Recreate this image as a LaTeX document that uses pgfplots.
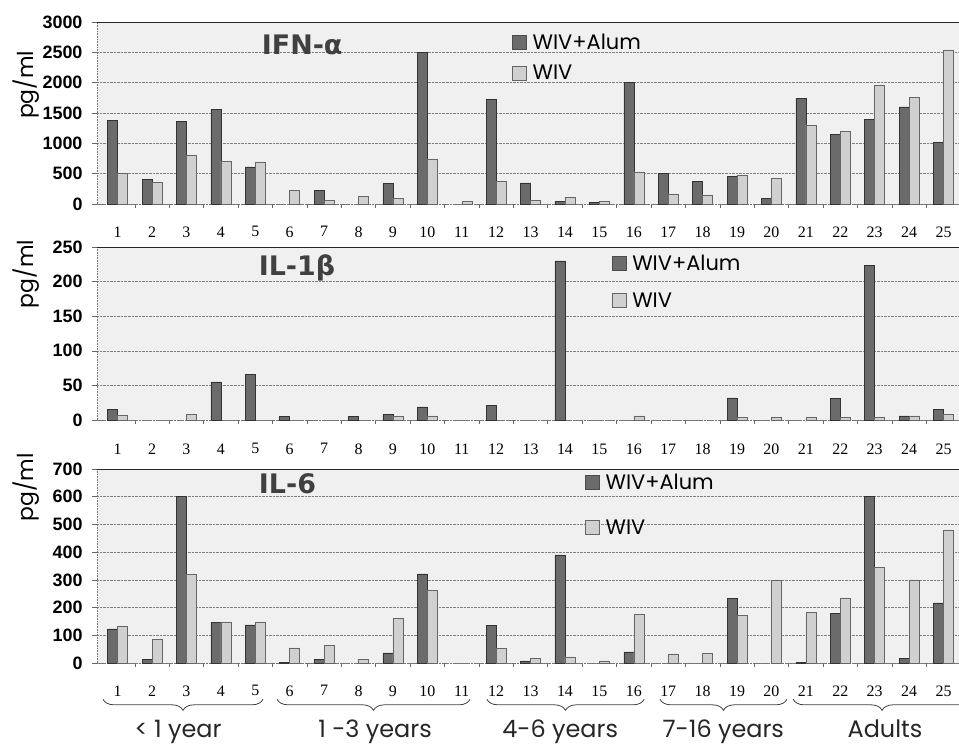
\documentclass[border=0pt]{standalone}
\usepackage{fontspec}
\setmainfont{Liberation Sans}
\newfontfamily\popfont{Poppins}
\newfontfamily\dejafont{DejaVu Sans}
\newfontfamily\serifnum{Liberation Serif}
\usepackage{pgfplots}
\pgfplotsset{compat=1.18}
\usetikzlibrary{decorations.pathreplacing}

\definecolor{darkbar}{HTML}{6B6B6B}
\definecolor{lightbar}{HTML}{D0D0D0}
\definecolor{plotbg}{HTML}{F0F0F0}

\tikzset{ttl/.style={font=\dejafont\bfseries\fontsize{27}{27}\selectfont, text=black!75, anchor=base}}

\pgfplotsset{
  panel/.style={
    scale only axis,
    width=862bp,
    xmin=0.4, xmax=25.45,
    ymin=0,
    ybar=0pt,
    bar width=10bp,
    axis background/.style={fill=plotbg},
    axis lines*=left,
    axis line style={black!55, densely dotted, line width=0.6bp},
    ymajorgrids,
    major grid style={black!50, densely dotted, line width=0.6bp},
    xtick={1,...,25},
    major x tick style={draw=none},
    minor xtick={1.5,2.5,...,24.5},
    minor x tick style={black!60, solid, line width=0.6bp},
    minor tick length=4bp,
    major tick length=5bp,
    tick align=outside,
    major y tick style={black!60, solid, line width=0.6bp},
    /pgf/number format/assume math mode=true,
    /pgf/number format/1000 sep={},
    yticklabel style={font=\fontsize{18}{18}\selectfont\bfseries, xshift=-6bp},
    xticklabel style={font=\serifnum\fontsize{16}{16}\selectfont, yshift=-14bp},
    ylabel={pg/ml},
    ylabel style={font=\popfont\fontsize{22}{22}\selectfont, anchor=center},
    legend cell align=left,
    legend style={draw=none, fill=none, inner sep=0pt,
      font=\popfont\fontsize{21}{21}\selectfont,
      nodes={inner sep=0pt, text height=14bp, text depth=0bp},
      /tikz/every odd column/.append style={column sep=6bp}},
    clip=false,
  },
  darkser/.style={fill=darkbar, draw=black!80, line width=0.5bp,
    legend image code/.code={\draw[fill=darkbar, draw=black!70, line width=0.5bp] (0bp,-7bp) rectangle (14bp,7bp);}},
  lightser/.style={fill=lightbar, draw=black!60, line width=0.5bp,
    legend image code/.code={\draw[fill=lightbar, draw=black!60, line width=0.5bp] (0bp,-7bp) rectangle (14bp,7bp);}},
}

\begin{document}
\begin{tikzpicture}
\useasboundingbox (0,0) rectangle (959bp,-745bp);

% IFN-alpha
\begin{axis}[panel,
  at={(97bp,-204bp)}, anchor=south west, height=182bp,
  ymax=3000, ytick={0,500,...,3000},
  extra y ticks={3000}, extra y tick labels={},
  extra y tick style={major grid style={black!85, solid, line width=1bp}},
  ylabel style={at={(axis description cs:-0.082,0.654)}},
  legend style={at={(axis description cs:0.4814,0.929)}, anchor=north west, row sep=16bp},
]
\addplot[darkser] coordinates {
  (1,1380) (2,410) (3,1360) (4,1560) (5,610) (7,230) (9,340) (10,2500)
  (12,1730) (13,350) (14,44) (15,28) (16,2000) (17,500) (18,370) (19,460)
  (20,88) (21,1735) (22,1150) (23,1400) (24,1600) (25,1020)};
\addlegendentry{WIV+Alum}
\addplot[lightser] coordinates {
  (1,500) (2,360) (3,810) (4,700) (5,690) (6,220) (7,60) (8,130) (9,95)
  (10,730) (11,38) (12,370) (13,55) (14,115) (15,44) (16,530) (17,165)
  (18,150) (19,470) (20,420) (21,1300) (22,1200) (23,1950) (24,1760) (25,2530)};
\addlegendentry{WIV}
\node[ttl] at (axis description cs:0.238,0.819) {IFN-α};
\end{axis}

% IL-1beta
\begin{axis}[panel,
  at={(97bp,-420bp)}, anchor=south west, height=173bp,
  ymax=250, ytick={0,50,...,250},
  extra y ticks={250}, extra y tick labels={},
  extra y tick style={major grid style={black!85, solid, line width=1bp}},
  xticklabel style={yshift=-1bp},
  ylabel style={at={(axis description cs:-0.082,0.844)}},
  legend style={at={(axis description cs:0.597,0.947)}, anchor=north west, row sep=22bp},
]
\addplot[darkser] coordinates {
  (1,15) (4,55) (5,66) (6,5) (8,5) (9,8) (10,19) (12,21) (14,230)
  (19,32) (22,31) (23,223) (24,6) (25,15)};
\addlegendentry{WIV+Alum}
\addplot[lightser] coordinates {
  (1,7) (3,8) (9,5) (10,6) (16,6) (19,4) (20,4) (21,4) (22,4) (23,4)
  (24,6) (25,8)};
\addlegendentry{WIV}
\node[ttl] at (axis description cs:0.232,0.834) {IL-1β};
\end{axis}

% IL-6
\begin{axis}[panel,
  at={(97bp,-663bp)}, anchor=south west, height=194bp,
  ymax=700, ytick={0,100,...,700},
  extra y ticks={700}, extra y tick labels={},
  extra y tick style={major grid style={black!85, solid, line width=1bp}},
  ylabel style={at={(axis description cs:-0.082,0.906)}},
  legend style={at={(axis description cs:0.566,0.971)}, anchor=north west, row sep=31bp},
]
\addplot[darkser] coordinates {
  (1,123) (2,12) (3,600) (4,147) (5,138) (6,3) (7,14) (9,37) (10,322)
  (12,135) (13,8) (14,390) (16,40) (19,232) (21,3) (22,178) (23,600)
  (24,18) (25,217)};
\addlegendentry{WIV+Alum}
\addplot[lightser] coordinates {
  (1,132) (2,85) (3,320) (4,147) (5,148) (6,55) (7,63) (8,14) (9,162)
  (10,263) (12,52) (13,17) (14,22) (15,8) (16,175) (17,33) (18,35)
  (19,172) (20,298) (21,182) (22,235) (23,345) (24,300) (25,478)};
\addlegendentry{WIV}
\node[ttl] at (axis description cs:0.221,0.875) {IL-6};

% age groups
\begin{scope}[black!75, line width=0.8bp, decoration={brace, mirror, amplitude=11bp}]
\draw[decorate] (axis cs:0.576,-131) -- (axis cs:5.225,-131);
\draw[decorate] (axis cs:5.632,-131) -- (axis cs:11.24,-131);
\draw[decorate] (axis cs:11.73,-131) -- (axis cs:16.3,-131);
\draw[decorate] (axis cs:16.76,-131) -- (axis cs:20.45,-131);
\draw[decorate] (axis cs:20.63,-131) -- (axis cs:25.8,-131);
\end{scope}
\begin{scope}[every node/.style={font=\popfont\fontsize{24}{24}\selectfont, text=black!85, inner sep=0pt, anchor=base}]
\node at (axis cs:2.755,-268) {< 1 year};
\node at (axis cs:8.48,-268) {1 -3 years};
\node at (axis cs:13.86,-268) {4-6 years};
\node at (axis cs:18.6,-268) {7-16 years};
\node at (axis cs:23.3,-268) {Adults};
\end{scope}
\end{axis}
\end{tikzpicture}
\end{document}
